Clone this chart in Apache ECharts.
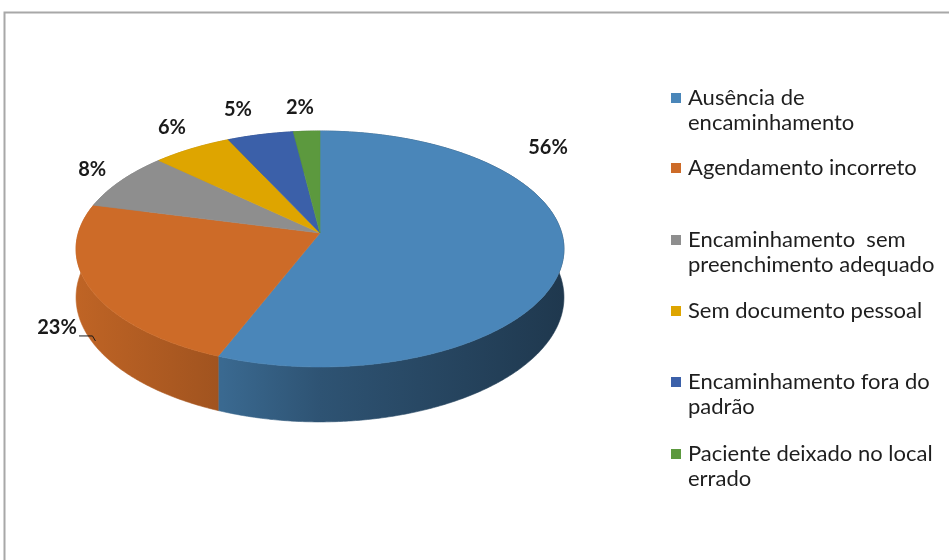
<!DOCTYPE html>
<html><head><meta charset="utf-8">
<script src="https://cdn.jsdelivr.net/npm/echarts@6/dist/echarts.min.js"></script>
<style>html,body{margin:0;padding:0;background:#fff}#c{width:949px;height:560px}</style>
</head><body><div id="c"></div>
<script>
// ---- data ----
const categories = ['Ausência de encaminhamento', 'Agendamento incorreto', 'Encaminhamento  sem preenchimento adequado', 'Sem documento pessoal', 'Encaminhamento fora do padrão', 'Paciente deixado no local errado'];
const legendLabels = ['Ausência de\nencaminhamento', 'Agendamento incorreto', 'Encaminhamento  sem\npreenchimento adequado', 'Sem documento pessoal', 'Encaminhamento fora do\npadrão', 'Paciente deixado no local\nerrado'];
const values = [56, 23, 8, 6, 5, 2];
const percentLabels = ['56%', '23%', '8%', '6%', '5%', '2%'];
const colors = ['#4a86b9', '#cd6b28', '#8e8e8e', '#dea500', '#3b60a9', '#5c993e'];

// ---- layout / style ----
const G = {cx: 320, cy: 233, f: 241.7, g: 115.8, k: 0.1356, h: 47.5};
const labelLayout = [[-48.8, 1.33], [-10, 1.226], [1.2, 1.175], [2.2, 1.257], [-1.5, 1.306], [-0.8, 1.268]]; // [angle shift, radius factor]
const leaderSlices = [1];
const legendIconCenters = [98, 168, 240, 311, 382, 454];
const LH = 25;
const FONT = 'Lato, "Open Sans", sans-serif';

const total = values.reduce((a, b) => a + b, 0);
const starts = values.map((v, i) => values.slice(0, i).reduce((a, b) => a + b, 0) / total * 360);

function proj(theta, r, z) {
  const t = theta * Math.PI / 180;
  const X = r * Math.sin(t), Y = r * Math.cos(t);
  const w = 1 + G.k * Y;
  return [G.cx + G.f * X / w, G.cy - G.g * Y / w + G.h * z / w];
}
function shade(hex, f) {
  const n = parseInt(hex.slice(1), 16);
  const r = Math.round(((n >> 16) & 255) * f), g = Math.round(((n >> 8) & 255) * f), b = Math.round((n & 255) * f);
  return 'rgb(' + r + ',' + g + ',' + b + ')';
}
function arc(a, b, z) {
  const pts = [];
  const n = Math.max(2, Math.ceil((b - a) / 0.5));
  for (let j = 0; j <= n; j++) pts.push(proj(a + (b - a) * j / n, 1, z));
  return pts;
}

const chart = echarts.init(document.getElementById('c'), null, {renderer: 'canvas'});

const series = categories.map((name, i) => ({
  type: 'custom',
  name: name,
  coordinateSystem: 'none',
  data: [{name: name, value: values[i]}],
  renderItem: function (params, api) {
    const color = api.visual('color');
    const a = starts[i];
    const b = a + api.value(0) / total * 360;
    const top = arc(a, b, 0);
    const bottom = arc(a, b, 1).reverse();
    const left = proj(270, 1.0093, 0)[0], right = proj(90, 1.0093, 0)[0];
    const grad = new echarts.graphic.LinearGradient(left, 0, right, 0, [
      {offset: 0, color: shade(color, 0.93)},
      {offset: 0.3, color: shade(color, 0.78)},
      {offset: 0.5, color: shade(color, 0.62)},
      {offset: 1, color: shade(color, 0.42)}
    ], true);
    const children = [
      {type: 'polygon', z2: 1, shape: {points: top.concat(bottom)}, style: {fill: grad, stroke: grad, lineWidth: 0.6}},
      {type: 'polygon', z2: 5, shape: {points: [proj(0, 0, 0)].concat(top)}, style: {fill: color, stroke: color, lineWidth: 0.6}}
    ];
    const mid = (a + b) / 2 + labelLayout[i][0];
    const lp = proj(mid, labelLayout[i][1], 0);
    children.push({type: 'text', z2: 10, x: lp[0], y: lp[1], style: {text: percentLabels[i], fontFamily: FONT, fontWeight: 'bold', fontSize: 20, fill: '#1a1a1a', align: 'center', verticalAlign: 'middle'}});
    if (leaderSlices.indexOf(i) >= 0) {
      const s = [lp[0] + 22, lp[1] + 8];
      const e = proj((a + b) / 2 - 3, 1, 0.9);
      children.push({type: 'polyline', z2: 10, shape: {points: [s, [e[0] - 3, s[1]], e]}, style: {stroke: '#1a1a1a', lineWidth: 1, fill: null}});
    }
    return {type: 'group', children: children};
  }
}));

const legends = categories.map((name, i) => {
  const two = legendLabels[i].indexOf('\n') >= 0;
  const c = legendIconCenters[i];
  return {
    data: [name], orient: 'vertical', left: 671, top: two ? c - 1.5 * LH : c - 0.5 * LH, padding: 0,
    itemWidth: 10, itemHeight: 10, icon: 'rect', selectedMode: false,
    formatter: function (n) { const s = legendLabels[categories.indexOf(n)]; return s.indexOf('\n') >= 0 ? '\n' + s : s; },
    textStyle: {fontFamily: FONT, fontSize: 22, color: '#1e1e1e', lineHeight: LH, padding: [0, 0, 0, 2]}
  };
});

chart.setOption({
  animation: false,
  color: colors,
  legend: legends,
  graphic: [{type: 'rect', silent: true, z: -1, shape: {x: 4.5, y: 12.5, width: 1000, height: 600}, style: {fill: 'none', stroke: '#a8a8a8', lineWidth: 2}}],
  series: series
});
</script></body></html>
